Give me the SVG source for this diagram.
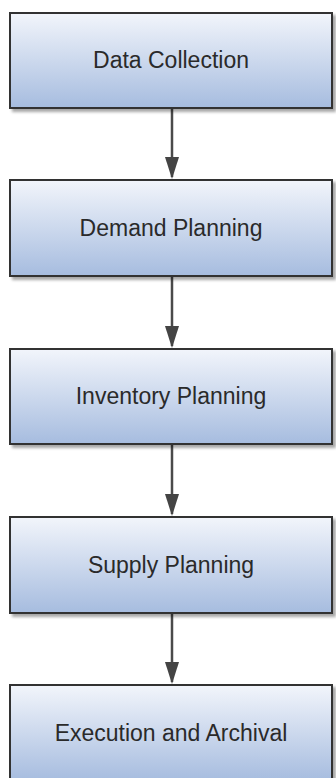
<svg xmlns="http://www.w3.org/2000/svg" width="336" height="778" viewBox="0 0 336 778">
<defs>
<linearGradient id="g" x1="0" y1="0" x2="0" y2="1">
<stop offset="0" stop-color="#f2f5fb"/>
<stop offset="1" stop-color="#a6bcdf"/>
</linearGradient>
<filter id="sh" x="-10%" y="-10%" width="130%" height="140%">
<feGaussianBlur in="SourceAlpha" stdDeviation="1.5"/>
<feOffset dx="3" dy="3" result="b"/>
<feComponentTransfer><feFuncA type="linear" slope="0.35"/></feComponentTransfer>
<feMerge><feMergeNode/><feMergeNode in="SourceGraphic"/></feMerge>
</filter>
<marker id="ah" viewBox="0 0 22 14" refX="20" refY="7" markerWidth="22" markerHeight="14" markerUnits="userSpaceOnUse" orient="auto">
<path d="M0,0 L22,7 L0,14 Z" fill="#444"/>
</marker>
</defs>
<style>
.box{fill:url(#g);stroke:#333;stroke-width:2;filter:url(#sh)}
.lbl{font-family:"Liberation Sans",Arial,sans-serif;font-size:23px;fill:#2a2a2a;text-anchor:middle}
.con{stroke:#4a4a4a;stroke-width:2.5;fill:none;marker-end:url(#ah)}
</style>
<g id="connectors">
<line class="con" x1="172" y1="109" x2="172" y2="177"/>
<line class="con" x1="172" y1="277" x2="172" y2="346"/>
<line class="con" x1="172" y1="445" x2="172" y2="514"/>
<line class="con" x1="172" y1="614" x2="172" y2="682"/>
</g>
<g id="n1"><rect class="box" x="10" y="13" width="322" height="95"/><text class="lbl" x="171" y="68">Data Collection</text></g>
<g id="n2"><rect class="box" x="10" y="180" width="322" height="96"/><text class="lbl" x="171" y="236">Demand Planning</text></g>
<g id="n3"><rect class="box" x="10" y="349" width="322" height="95"/><text class="lbl" x="171" y="404">Inventory Planning</text></g>
<g id="n4"><rect class="box" x="10" y="517" width="322" height="96"/><text class="lbl" x="171" y="573">Supply Planning</text></g>
<g id="n5"><rect class="box" x="10" y="685" width="322" height="96"/><text class="lbl" x="171" y="741">Execution and Archival</text></g>
</svg>
